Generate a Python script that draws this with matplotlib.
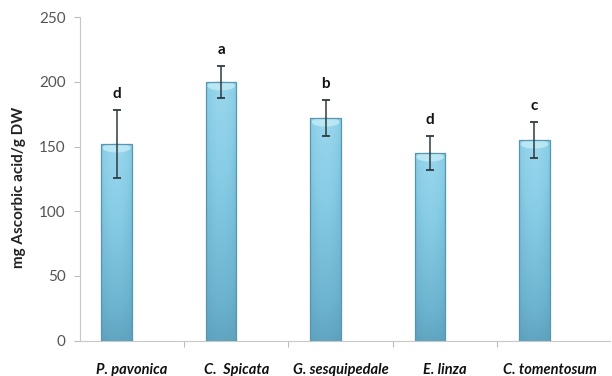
import numpy as np
import matplotlib
matplotlib.use("Agg")
import matplotlib.pyplot as plt
from matplotlib.colors import LinearSegmentedColormap

species = ["P. pavonica", "C.  Spicata", "G. sesquipedale", "E. linza", "C. tomentosum"]
ascorbic = [152, 200, 172, 145, 155]
errors = [26, 12.5, 14, 13, 14]
letters = ["d", "a", "b", "d", "c"]

plt.rcParams["font.family"] = ["Lato", "DejaVu Sans"]

fig = plt.figure(figsize=(6.12, 3.76), dpi=100)
ax = fig.add_axes([0.130, 0.094, 0.867, 0.860])

x = np.arange(len(species))
offset = -0.145
width = 0.29
pos = x + offset

# vertical shading for the bar bodies (light top, deeper base)
cmap = LinearSegmentedColormap.from_list(
    "barshade", ["#4a8ca6", "#6cb3cf", "#86cbe4", "#9bd8ee"])
# horizontal shading giving a rounded look
hcols = np.linspace(-1, 1, 60)
hprofile = 1 - 0.35 * hcols ** 2

bars = ax.bar(pos, ascorbic, width=width, color="none", edgecolor="#5896b0",
              linewidth=0.9, zorder=3)
for rect, val in zip(bars, ascorbic):
    x0 = rect.get_x()
    w = rect.get_width()
    vgrad = np.linspace(0, 1, 200)[:, None]
    img = 0.12 + 0.75 * vgrad * hprofile[None, :] + 0.1 * hprofile[None, :]
    im = ax.imshow(img, cmap=cmap, vmin=0, vmax=1, aspect="auto",
                   extent=[x0, x0 + w, 0, val], origin="lower", zorder=2,
                   interpolation="bilinear")
    im.set_clip_path(rect)
    # lighter cap at the top of each bar
    ax.add_patch(matplotlib.patches.Ellipse((x0 + w / 2, val - 3), w * 0.92, 7,
                                            facecolor="#c4ecf7", edgecolor="none",
                                            alpha=0.8, zorder=2.5))

ax.errorbar(pos, ascorbic, yerr=errors, fmt="none", ecolor="#2f3b40",
            elinewidth=1.1, capsize=3, capthick=1.3, zorder=4)

for p, v, e, lt in zip(pos, ascorbic, errors, letters):
    ax.text(p, v + e + 7, lt, ha="center", va="bottom", fontsize=11,
            fontweight="bold", color="#111111", zorder=5)

ax.set_xlim(-0.5, len(species) - 0.5 + 0.08)
ax.set_ylim(0, 250)
ax.set_yticks([0, 50, 100, 150, 200, 250])
ax.tick_params(axis="y", labelsize=11, labelcolor="#555555", color="#bbbbbb",
               length=4, width=0.8, pad=6)

ax.set_xticks(np.arange(len(species) - 1) + 0.5, minor=False)
ax.set_xticklabels([])
ax.tick_params(axis="x", color="#bbbbbb", length=4, width=0.8, direction="out")
for i, name in enumerate(species):
    ax.text(i, -17, name, ha="center", va="top", fontsize=10.5,
            fontweight="bold", fontstyle="italic", color="#111111",
            clip_on=False)

for s in ["top", "right"]:
    ax.spines[s].set_visible(False)
ax.spines["left"].set_color("#c8c8c8")
ax.spines["bottom"].set_color("#c8c8c8")

ax.set_ylabel("mg Ascorbic acid/g DW", fontsize=11, fontweight="bold",
              color="#222222")
ax.yaxis.set_label_coords(-0.101, 0.475)

fig.savefig("out.png", dpi=100)
